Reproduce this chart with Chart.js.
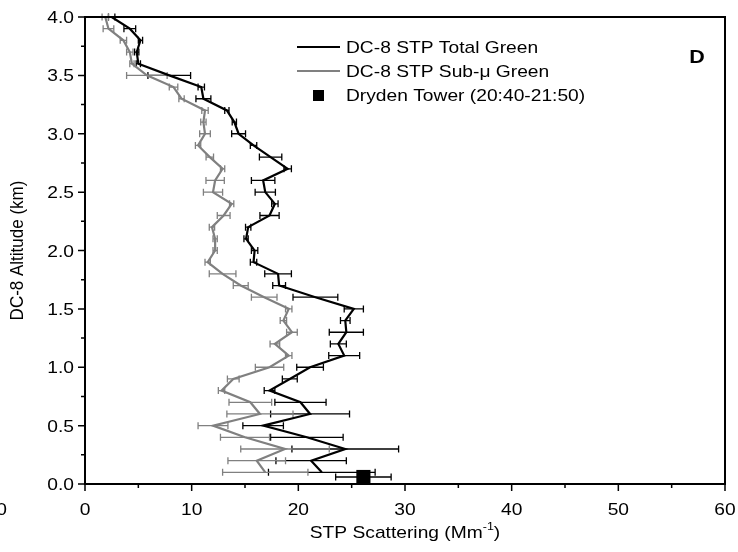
<!DOCTYPE html>
<html>
<head>
<meta charset="utf-8">
<script src="https://cdn.jsdelivr.net/npm/chart.js@4.4.0/dist/chart.umd.min.js"></script>
<style>
  html, body { margin: 0; padding: 0; background: #fff; }
  #wrap { width: 738px; height: 552px; }
</style>
</head>
<body>
<div id="wrap"><canvas id="profileChart" width="738" height="552"></canvas></div>
<script>
// altitude bins (km)
const altitudes = [0.1, 0.2, 0.3, 0.4, 0.5, 0.6, 0.7, 0.8, 0.9, 1.0,
  1.1, 1.2, 1.3, 1.4, 1.5, 1.6, 1.7, 1.8, 1.9, 2.0,
  2.1, 2.2, 2.3, 2.4, 2.5, 2.6, 2.7, 2.8, 2.9, 3.0,
  3.1, 3.2, 3.3, 3.4, 3.5, 3.6, 3.7, 3.8, 3.9, 4.0];

// DC-8 STP total green scattering (Mm-1) and its error
const totalGreen = [22.2, 21.2, 24.4, 20.8, 16.7, 21.1, 20.2, 17.3, 19.2, 21.1,
  24.3, 23.75, 24.5, 24.4, 25.2, 21.6, 18.2, 18.1, 15.8, 15.9,
  15.1, 15.3, 17.3, 17.8, 16.9, 16.7, 19.0, 17.4, 15.8, 14.4,
  14.0, 13.3, 11.1, 10.9, 7.9, 5.0, 4.85, 5.2, 4.2, 2.5];
const totalErr = [5.0, 3.3, 5.0, 3.4, 1.9, 3.7, 2.4, 0.5, 0.7, 1.25,
  1.45, 0.75, 1.6, 0.45, 0.9, 2.1, 0.6, 1.25, 0.3, 0.3,
  0.2, 0.25, 0.9, 0.3, 0.95, 1.1, 0.35, 1.05, 0.3, 0.65,
  0.2, 0.2, 0.7, 0.3, 2.0, 0.2, 0.2, 0.2, 0.55, 0.3];

// DC-8 STP sub-micron green scattering (Mm-1) and its error
const subGreen = [16.9, 16.1, 18.75, 15.0, 12.0, 16.4, 15.5, 12.8, 13.9, 17.3,
  19.1, 17.8, 19.4, 18.6, 19.1, 16.8, 14.6, 12.9, 11.5, 12.2,
  12.2, 11.9, 13.0, 13.75, 12.0, 12.2, 12.9, 11.7, 10.6, 11.25,
  11.1, 11.25, 9.05, 8.3, 5.8, 4.4, 4.2, 3.6, 2.2, 1.9];
const subErr = [4.0, 2.7, 4.15, 2.3, 1.4, 3.1, 2.0, 0.3, 0.55, 1.33,
  0.3, 0.45, 0.5, 0.3, 0.3, 1.2, 0.7, 1.25, 0.25, 0.2,
  0.2, 0.25, 0.6, 0.2, 0.9, 0.86, 0.2, 0.35, 0.25, 0.5,
  0.25, 0.3, 0.25, 0.4, 1.9, 0.2, 0.3, 0.3, 0.5, 0.3];

// Dryden tower surface value
const towerX = [26.1];
const towerY = [0.06];
const towerErr = [2.6];

const xTickLabels = [0, 10, 20, 30, 40, 50, 60];
const yTickLabels = [0.0, 0.5, 1.0, 1.5, 2.0, 2.5, 3.0, 3.5, 4.0];

const FONT = "'Liberation Sans', Arial, sans-serif";
const STRETCH = 1.13;

function toPoints(xs, ys) {
  return xs.map((v, i) => ({ x: v, y: ys[i] }));
}

// text drawn a bit wider than the font, like the original figure
function wideText(ctx, text, x, y, align, size, bold) {
  ctx.save();
  ctx.font = (bold ? "bold " : "") + size + "px " + FONT;
  const w = ctx.measureText(text).width * STRETCH;
  let left = x;
  if (align === "center") left = x - w / 2;
  if (align === "right") left = x - w;
  ctx.translate(left, y);
  ctx.scale(STRETCH, 1);
  ctx.textAlign = "left";
  ctx.fillText(text, 0, 0);
  ctx.restore();
  return w;
}

const errorsByDataset = [totalErr, subErr, towerErr];

// horizontal error bars with caps
const errorBars = {
  id: "errorBars",
  beforeDatasetsDraw(chart) {
    const ctx = chart.ctx;
    const xs = chart.scales.x;
    const ys = chart.scales.y;
    chart.data.datasets.forEach((ds, i) => {
      const errs = errorsByDataset[i];
      if (!errs) return;
      ctx.save();
      ctx.strokeStyle = ds.errColor;
      ctx.lineWidth = 1.3;
      ds.data.forEach((p, j) => {
        const y = ys.getPixelForValue(p.y);
        const x1 = xs.getPixelForValue(p.x - errs[j]);
        const x2 = xs.getPixelForValue(p.x + errs[j]);
        ctx.beginPath();
        ctx.moveTo(x1, y);
        ctx.lineTo(x2, y);
        ctx.moveTo(x1, y - 3.5);
        ctx.lineTo(x1, y + 3.5);
        ctx.moveTo(x2, y - 3.5);
        ctx.lineTo(x2, y + 3.5);
        ctx.stroke();
      });
      ctx.restore();
    });
  },
};

// frame, ticks, labels, axis titles, legend and panel letter
const decorations = {
  id: "decorations",
  afterDraw(chart) {
    const ctx = chart.ctx;
    const area = chart.chartArea;
    const xs = chart.scales.x;
    const ys = chart.scales.y;
    ctx.save();
    ctx.strokeStyle = "#000";
    ctx.lineWidth = 2;
    ctx.strokeRect(area.left, area.top, area.right - area.left, area.bottom - area.top);

    ctx.lineWidth = 1.5;
    ctx.beginPath();
    for (let v = 0; v <= 60; v += 5) {
      const px = xs.getPixelForValue(v);
      const len = v % 10 === 0 ? 7 : 4;
      ctx.moveTo(px, area.bottom);
      ctx.lineTo(px, area.bottom + len);
    }
    for (let v = 0; v <= 4.001; v += 0.25) {
      const py = ys.getPixelForValue(v);
      const len = Math.abs(v * 2 - Math.round(v * 2)) < 0.01 ? 7 : 4;
      ctx.moveTo(area.left, py);
      ctx.lineTo(area.left - len, py);
    }
    ctx.stroke();

    ctx.fillStyle = "#000";
    ctx.textBaseline = "alphabetic";

    // tick labels
    xTickLabels.forEach((v) => {
      wideText(ctx, String(v), xs.getPixelForValue(v), 515, "center", 17);
    });
    yTickLabels.forEach((v) => {
      wideText(ctx, v.toFixed(1), area.left - 11, ys.getPixelForValue(v) + 6, "right", 17);
    });

    // x title with superscript
    ctx.font = "17px " + FONT;
    const wMain = ctx.measureText("STP Scattering (Mm").width * STRETCH;
    const wClose = ctx.measureText(")").width * STRETCH;
    ctx.font = "11px " + FONT;
    const wSup = ctx.measureText("-1").width * STRETCH;
    const cx = (area.left + area.right) / 2;
    const tx = cx - (wMain + wSup + wClose) / 2;
    const ty = 538;
    wideText(ctx, "STP Scattering (Mm", tx, ty, "left", 17);
    wideText(ctx, "-1", tx + wMain, ty - 8, "left", 11);
    wideText(ctx, ")", tx + wMain + wSup, ty, "left", 17);

    // y title
    ctx.save();
    ctx.translate(23, (area.top + area.bottom) / 2);
    ctx.rotate(-Math.PI / 2);
    ctx.scale(1, STRETCH);
    ctx.font = "17px " + FONT;
    ctx.textAlign = "center";
    ctx.fillText("DC-8 Altitude (km)", 0, 0);
    ctx.restore();

    // cut-off label of neighbouring panel
    wideText(ctx, "60", 7, 515, "right", 17);

    // legend
    ctx.lineWidth = 2;
    ctx.strokeStyle = "#000";
    ctx.beginPath();
    ctx.moveTo(297, 47);
    ctx.lineTo(340, 47);
    ctx.stroke();
    ctx.strokeStyle = "#808080";
    ctx.beginPath();
    ctx.moveTo(297, 71);
    ctx.lineTo(340, 71);
    ctx.stroke();
    ctx.fillRect(313, 90, 11, 11);
    wideText(ctx, "DC-8 STP Total Green", 346, 53, "left", 17);
    wideText(ctx, "DC-8 STP Sub-\u03bc Green", 346, 77, "left", 17);
    wideText(ctx, "Dryden Tower (20:40-21:50)", 346, 101, "left", 17);

    wideText(ctx, "D", 697, 63, "center", 19, true);
    ctx.restore();
  },
};

Chart.defaults.font.family = FONT;
Chart.defaults.font.size = 16;
Chart.defaults.color = "#000";

const chartCanvas = document.getElementById("profileChart");
const profileChart = new Chart(chartCanvas.getContext("2d"), {
  type: "scatter",
  data: {
    datasets: [
      {
        label: "DC-8 STP Total Green",
        data: toPoints(totalGreen, altitudes),
        showLine: true,
        borderColor: "#000",
        borderWidth: 2.2,
        pointRadius: 0,
        errColor: "#000",
        order: 2,
      },
      {
        label: "DC-8 STP Sub-\u03bc Green",
        data: toPoints(subGreen, altitudes),
        showLine: true,
        borderColor: "#808080",
        borderWidth: 2.2,
        pointRadius: 0,
        errColor: "#808080",
        order: 1,
      },
      {
        label: "Dryden Tower (20:40-21:50)",
        data: toPoints(towerX, towerY),
        showLine: false,
        pointStyle: "rect",
        pointRadius: 10,
        backgroundColor: "#000",
        borderColor: "#000",
        borderWidth: 0,
        errColor: "#000",
        order: 0,
      },
    ],
  },
  options: {
    responsive: false,
    animation: false,
    devicePixelRatio: 1,
    layout: { padding: { left: 0, top: 17, right: 13, bottom: 0 } },
    plugins: {
      legend: { display: false },
      tooltip: { enabled: false },
    },
    scales: {
      x: {
        type: "linear",
        min: 0,
        max: 60,
        grid: { display: false, drawTicks: false },
        border: { display: false },
        afterFit: (scale) => { scale.height = 68; },
        afterBuildTicks: (scale) => {
          scale.ticks = xTickLabels.map((v) => ({ value: v }));
        },
        ticks: { display: false },
      },
      y: {
        type: "linear",
        min: 0,
        max: 4,
        grid: { display: false, drawTicks: false },
        border: { display: false },
        afterFit: (scale) => { scale.width = 85; },
        afterBuildTicks: (scale) => {
          scale.ticks = yTickLabels.map((v) => ({ value: v }));
        },
        ticks: { display: false },
      },
    },
  },
  plugins: [errorBars, decorations],
});
</script>
</body>
</html>
